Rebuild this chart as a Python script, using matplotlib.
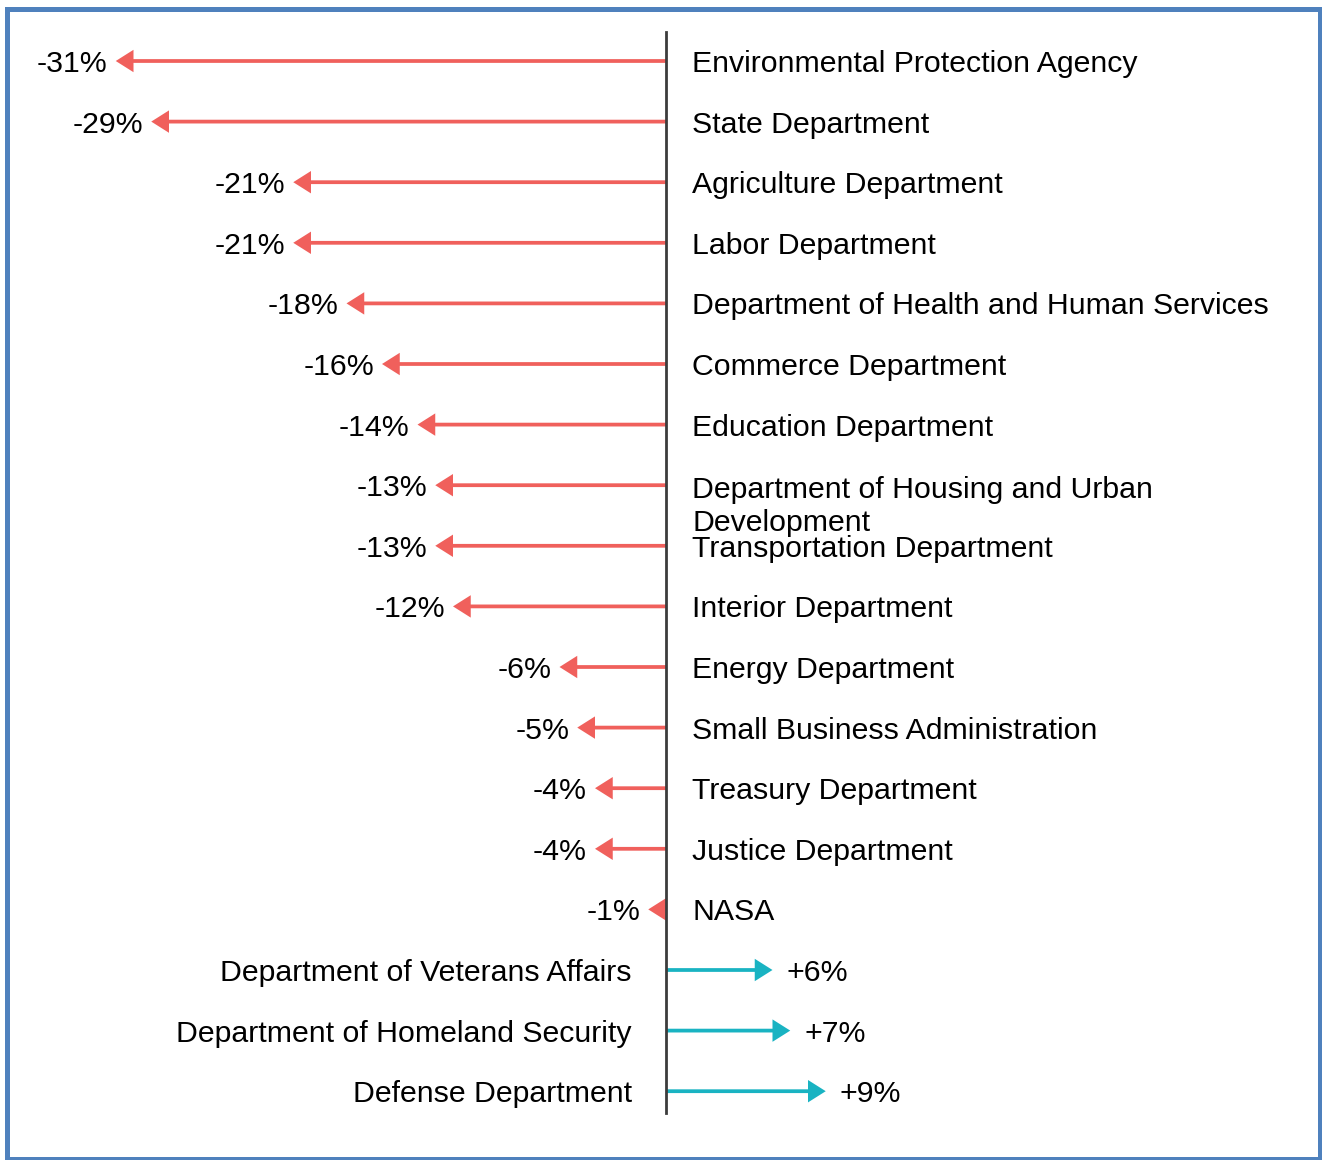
import matplotlib.pyplot as plt
from matplotlib.patches import Rectangle

agencies = ["Environmental Protection Agency", "State Department", "Agriculture Department",
            "Labor Department", "Department of Health and Human Services", "Commerce Department",
            "Education Department", "Department of Housing and Urban\nDevelopment",
            "Transportation Department", "Interior Department", "Energy Department",
            "Small Business Administration", "Treasury Department", "Justice Department",
            "NASA", "Department of Veterans Affairs", "Department of Homeland Security",
            "Defense Department"]
change = [-31, -29, -21, -21, -18, -16, -14, -13, -13, -12, -6, -5, -4, -4, -1, 6, 7, 9]
change_labels = ["-31%", "-29%", "-21%", "-21%", "-18%", "-16%", "-14%", "-13%", "-13%",
                 "-12%", "-6%", "-5%", "-4%", "-4%", "-1%", "+6%", "+7%", "+9%"]

RED = "#f0605c"
TEAL = "#19b3c2"
FS = 21.8
plt.rcParams['font.family'] = ['Liberation Sans', 'DejaVu Sans']

fig = plt.figure(figsize=(13.22, 11.6), dpi=100)
ax = fig.add_axes([0, 0, 1, 1])
ax.set_xlim(-666 / 17.75, 656 / 17.75)
ax.set_ylim((1160 - 61) / 60.6, -61 / 60.6)
ax.axis('off')

# centre axis line
ax.plot([0, 0], [-0.48, 17.36], color="#3c3c3c", lw=2.0, zorder=3)

for i, (name, v, lab) in enumerate(zip(agencies, change, change_labels)):
    col = RED if v < 0 else TEAL
    ax.arrow(0, i, v, 0, length_includes_head=True, width=0.062,
             head_width=0.37, head_length=1.0, color=col, lw=0, zorder=2)
    if v < 0:
        ax.text(v - 0.45, i, lab, ha='right', va='center_baseline', fontsize=FS)
        if "\n" in name:
            # wrapped label hangs down from its row, like the original
            ax.text(1.47, i - 0.16, name, ha='left', va='top', fontsize=FS,
                    linespacing=1.24)
        else:
            ax.text(1.47, i, name, ha='left', va='center_baseline', fontsize=FS)
    else:
        ax.text(v + 0.8, i, lab, ha='left', va='center_baseline', fontsize=FS)
        ax.text(-1.92, i, name, ha='right', va='center_baseline', fontsize=FS)

# blue frame around the figure
fig.patches.append(Rectangle((6.5 / 1322, 1.5 / 1160), 1313 / 1322, 1150 / 1160,
                             transform=fig.transFigure, fill=False,
                             edgecolor="#4f81bd", lw=3.6))

fig.savefig("out.png", dpi=100)
